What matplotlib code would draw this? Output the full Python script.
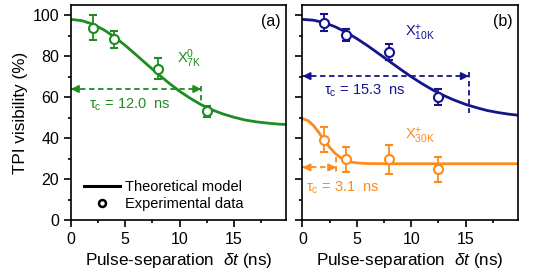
import numpy as np
import matplotlib
matplotlib.use('Agg')
from matplotlib import pyplot as plt
from matplotlib.lines import Line2D
from matplotlib.ticker import MultipleLocator

plt.rcParams['font.family'] = ['Liberation Sans', 'DejaVu Sans']
plt.rcParams['mathtext.fontset'] = 'custom'
plt.rcParams['mathtext.rm'] = 'Liberation Sans'
plt.rcParams['mathtext.it'] = 'Liberation Sans:italic'

# datos experimentales (ns, %)
t_exp = [2, 4, 8, 12.5]
v_7k = [94, 88.2, 74, 53.1]
err_7k = [6, 4, 5, 2.8]
v_10k = [96.4, 90.3, 82, 60.1]
err_10k = [4, 2.8, 3.8, 3.7]
v_30k = [39.2, 29.7, 29.7, 24.8]
err_30k = [6.1, 6.1, 7.1, 6]

# curvas del modelo
t_mod = [0, 1, 2, 3, 4, 5, 6, 7, 8, 9, 10, 11, 12, 13, 14, 15, 16, 17, 18, 19, 20]
m_7k = [98, 97.4, 95.7, 93.0, 89.5, 85.3, 80.7, 76.0, 71.4, 67.0, 62.9,
        59.4, 56.3, 53.8, 51.8, 50.2, 48.9, 48.0, 47.4, 46.9, 46.6]
m_10k = [98, 97.6, 96.4, 94.4, 91.8, 88.6, 85.1, 81.3, 77.5, 73.7, 70.0,
         66.6, 63.5, 60.8, 58.5, 56.5, 54.9, 53.5, 52.5, 51.7, 51.1]
t_mod30 = [0, 0.5, 1, 1.5, 2, 2.5, 3, 3.5, 4, 4.5, 5, 6, 8, 12, 16, 20]
m_30k = [49.5, 48.6, 46.2, 42.8, 39.0, 35.5, 32.6, 30.5, 29.1, 28.3, 27.9,
         27.6, 27.5, 27.5, 27.5, 27.5]

tau_7k, y_7k = 12.0, 64.0
tau_10k, y_10k = 15.3, 70.3
tau_30k, y_30k = 3.1, 25.7

VERDE = '#1f8c1f'
AZUL = '#14148c'
NARANJA = '#ff8a1c'


def flecha(ax, tau, y, y0, y1, color):
    ax.plot([0, tau], [y, y], ls=(0, (3, 2)), color=color, lw=1.3)
    ax.plot([tau, tau], [y0, y1], ls=(0, (3, 2)), color=color, lw=1.3)
    kw = dict(arrowstyle='-|>', color=color, lw=1.3, mutation_scale=11,
              shrinkA=0, shrinkB=0)
    ax.annotate('', xy=(0, y), xytext=(0.5, y), arrowprops=kw)
    ax.annotate('', xy=(tau, y), xytext=(tau - 0.5, y), arrowprops=kw)


def estilo(ax):
    ax.set_xlim(0, 19.8)
    ax.set_ylim(0, 105)
    ax.xaxis.set_major_locator(MultipleLocator(5))
    ax.xaxis.set_minor_locator(MultipleLocator(2.5))
    ax.yaxis.set_major_locator(MultipleLocator(20))
    ax.yaxis.set_minor_locator(MultipleLocator(10))
    ax.tick_params(which='major', direction='out', length=5, width=1.2, labelsize=11.5)
    ax.tick_params(which='minor', direction='out', length=2.5, width=1.2)
    for s in ax.spines.values():
        s.set_linewidth(1.2)
    ax.set_xlabel(r'Pulse-separation  $\it{\delta t}$ (ns)', fontsize=12.3, labelpad=3)


fig = plt.figure(figsize=(5.45, 2.8), dpi=100)
ax1 = fig.add_axes([0.130, 0.214, 0.395, 0.768])
ax2 = fig.add_axes([0.555, 0.214, 0.395, 0.768])

marc = dict(fmt='o', mfc='white', ms=6.5, mew=1.5, capsize=3, elinewidth=1.3, capthick=1.3)

# panel (a)
ax1.plot(t_mod, m_7k, color=VERDE, lw=2)
ax1.errorbar(t_exp, v_7k, yerr=err_7k, color=VERDE, **marc)
flecha(ax1, tau_7k, y_7k, 65.5, 57, VERDE)
ax1.text(1.7, 56.5, r'$\mathregular{\tau_c}$ = 12.0  ns', color=VERDE, fontsize=10.5, va='center')
ax1.text(9.8, 79, r'$\mathregular{X^{0}_{7K}}$', color=VERDE, fontsize=10.5, va='center')
ax1.text(19.3, 97, '(a)', fontsize=11.5, ha='right', va='center')
estilo(ax1)
ax1.set_ylabel('TPI visibility (%)', fontsize=12.3, labelpad=3)
h = [Line2D([], [], color='black', lw=2.2),
     Line2D([], [], ls='none', marker='o', mfc='white', mec='black', mew=1.8, ms=5)]
ax1.legend(h, ['Theoretical model', 'Experimental data'], loc='lower left',
           frameon=False, fontsize=10.5, handlelength=2.5, handletextpad=0.3,
           labelspacing=0.2, borderaxespad=0.2, bbox_to_anchor=(0.02, 0.0))

# panel (b)
ax2.plot(t_mod, m_10k, color=AZUL, lw=2)
ax2.errorbar(t_exp, v_10k, yerr=err_10k, color=AZUL, **marc)
ax2.plot(t_mod30, m_30k, color=NARANJA, lw=2)
ax2.errorbar(t_exp, v_30k, yerr=err_30k, color=NARANJA, **marc)
flecha(ax2, tau_10k, y_10k, 72.5, 52.5, AZUL)
flecha(ax2, tau_30k, y_30k, 31, 23.5, NARANJA)
ax2.text(2.0, 63, r'$\mathregular{\tau_c}$ = 15.3  ns', color=AZUL, fontsize=10.5, va='center')
ax2.text(0.3, 16, r'$\mathregular{\tau_c}$ = 3.1  ns', color=NARANJA, fontsize=10.5, va='center')
ax2.text(9.4, 91.5, r'$\mathregular{X^{+}_{10K}}$', color=AZUL, fontsize=10.5, va='center')
ax2.text(9.4, 41, r'$\mathregular{X^{+}_{30K}}$', color=NARANJA, fontsize=10.5, va='center')
ax2.text(19.3, 97, '(b)', fontsize=11.5, ha='right', va='center')
estilo(ax2)
ax2.set_yticklabels([])

fig.savefig('out.png', dpi=100)
